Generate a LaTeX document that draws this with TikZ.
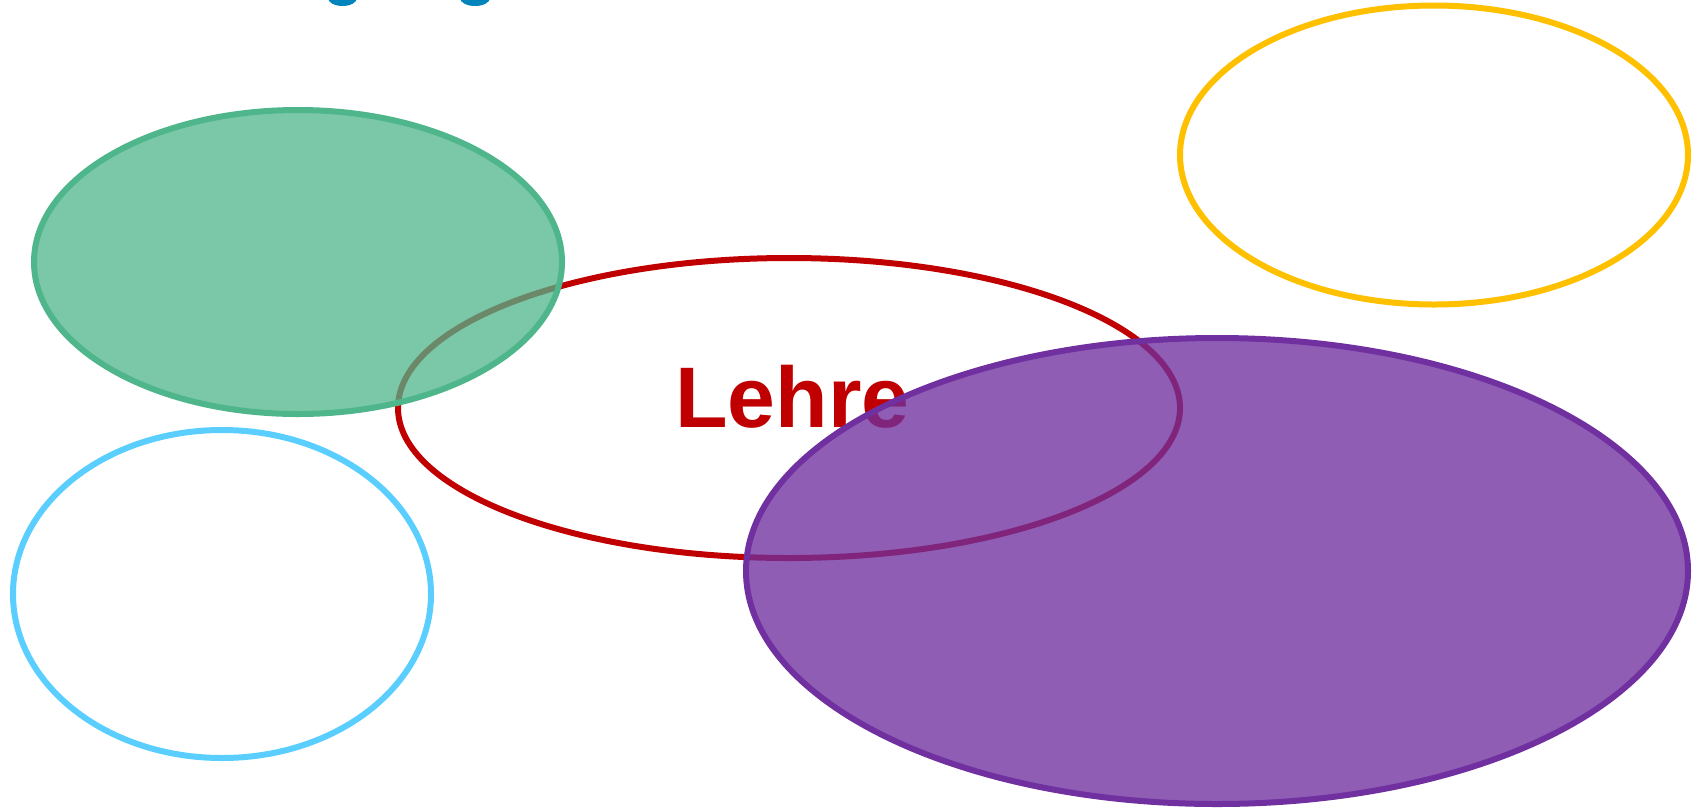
\documentclass[tikz,border=0pt]{standalone}
\usepackage{fontspec}
\setmainfont{Liberation Sans}
\usetikzlibrary{shapes.geometric}
\definecolor{cred}{HTML}{C00000}
\definecolor{cgreen}{HTML}{4FB68C}
\definecolor{cblue}{HTML}{5ACFFF}
\definecolor{cyellow}{HTML}{FFC000}
\definecolor{cpurple}{HTML}{7030A0}
\definecolor{ctitle}{HTML}{0084BC}
\tikzset{
  ell/.style={ellipse, inner sep=0pt, line width=6pt},
}
\begin{document}
\begin{tikzpicture}[x=1pt,y=-1pt]
\useasboundingbox (0,0) rectangle (1705,807);
\fill[white] (0,0) rectangle (1705,807);
% fragments of cut-off title
\begin{scope}
\clip (0,0) rectangle (1705,807);
\fill[ctitle] (342.5,-2) ellipse [x radius=14.5, y radius=8];
\fill[ctitle] (475,-2) ellipse [x radius=15, y radius=8];
\end{scope}
\node[ell, draw=cred, minimum width=782pt, minimum height=300pt] (lehreell) at (789,408) {};
\node[anchor=base west, text=cred, font=\bfseries\fontsize{86}{92}\selectfont, inner sep=0pt] (lehre) at (675,427) {Lehre};
\node[ell, draw=cgreen, fill=cgreen, fill opacity=0.75, minimum width=528pt, minimum height=304pt] (green) at (298,262) {};
\node[ell, draw=cblue, minimum width=418pt, minimum height=328pt] (blue) at (222,594) {};
\node[ell, draw=cyellow, minimum width=508pt, minimum height=299pt] (yellow) at (1434,155) {};
\node[ell, draw=cpurple, fill=cpurple, fill opacity=0.78, minimum width=942pt, minimum height=466pt] (purple) at (1217,571) {};
\end{tikzpicture}
\end{document}
